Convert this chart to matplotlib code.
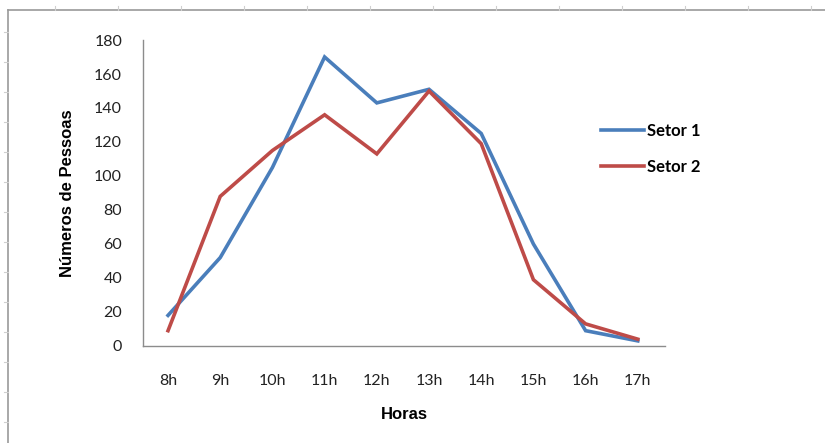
import matplotlib

matplotlib.use("Agg")
import numpy as np
from matplotlib import pyplot as plt
from matplotlib.lines import Line2D

horas = ["8h", "9h", "10h", "11h", "12h", "13h", "14h", "15h", "16h", "17h"]
setor_1 = [18, 52, 105, 170, 143, 151, 125, 60, 9, 3]
setor_2 = [9, 88, 115, 136, 113, 150, 119, 39, 13, 4]
y_ticks = [0, 20, 40, 60, 80, 100, 120, 140, 160, 180]

blue = "#4a7ebb"
red = "#be4b48"
label_font = ["Lato", "DejaVu Sans"]
title_font = ["Liberation Sans Narrow", "Liberation Sans", "DejaVu Sans"]

fig = plt.figure(figsize=(8.25, 4.43), dpi=100)
ax = fig.add_axes([0.1733, 0.219, 0.6327, 0.6907])

x = np.arange(len(horas))
ax.plot(x, setor_1, color=blue, lw=2.6, label="Setor 1", solid_joinstyle="miter")
ax.plot(x, setor_2, color=red, lw=2.6, label="Setor 2", solid_joinstyle="miter")

ax.set_xlim(-0.48, len(horas) - 1 + 0.52)
ax.set_ylim(0, 180)
ax.set_xticks(x)
ax.set_xticklabels(horas, family=label_font, fontsize=11.5, color="#222222")
ax.set_yticks(y_ticks)
ax.set_yticklabels([str(v) for v in y_ticks], family=label_font, fontsize=11.5,
                   color="#222222")
ax.tick_params(axis="both", length=0)
ax.tick_params(axis="y", pad=15)
ax.tick_params(axis="x", pad=20)

for side in ("top", "right"):
    ax.spines[side].set_visible(False)
for side in ("left", "bottom"):
    ax.spines[side].set_color("#8c8c8c")
    ax.spines[side].set_linewidth(1.0)

ax.set_xlabel("Horas", family=title_font, fontsize=12, fontweight="bold",
              labelpad=14)
ax.set_ylabel("Números de Pessoas", family=title_font, fontsize=12,
              fontweight="bold", labelpad=14)

leg = ax.legend(loc="upper left", bbox_to_anchor=(0.848, 0.778), frameon=False,
                prop={"family": label_font, "size": 12, "weight": "bold"},
                handlelength=2.6, handletextpad=0.2, labelspacing=1.2)

# light frame round the sheet with its faint grid ticks
W, H = 825, 443
frame = "#9a9a9a"
fig.add_artist(Line2D([8 / W, 1], [1 - 10 / H, 1 - 10 / H], color=frame, lw=1.2))
fig.add_artist(Line2D([8 / W, 8 / W], [0, 1 - 10 / H], color=frame, lw=1.2))
for px in range(55, W, 63):
    fig.add_artist(Line2D([px / W, px / W], [1 - 10 / H, 1 - 6 / H],
                          color="#cfcfcf", lw=0.8))
for py in range(32, H, 30):
    fig.add_artist(Line2D([4 / W, 8 / W], [1 - py / H, 1 - py / H],
                          color="#cfcfcf", lw=0.8))

fig.savefig("out.png", dpi=100)
